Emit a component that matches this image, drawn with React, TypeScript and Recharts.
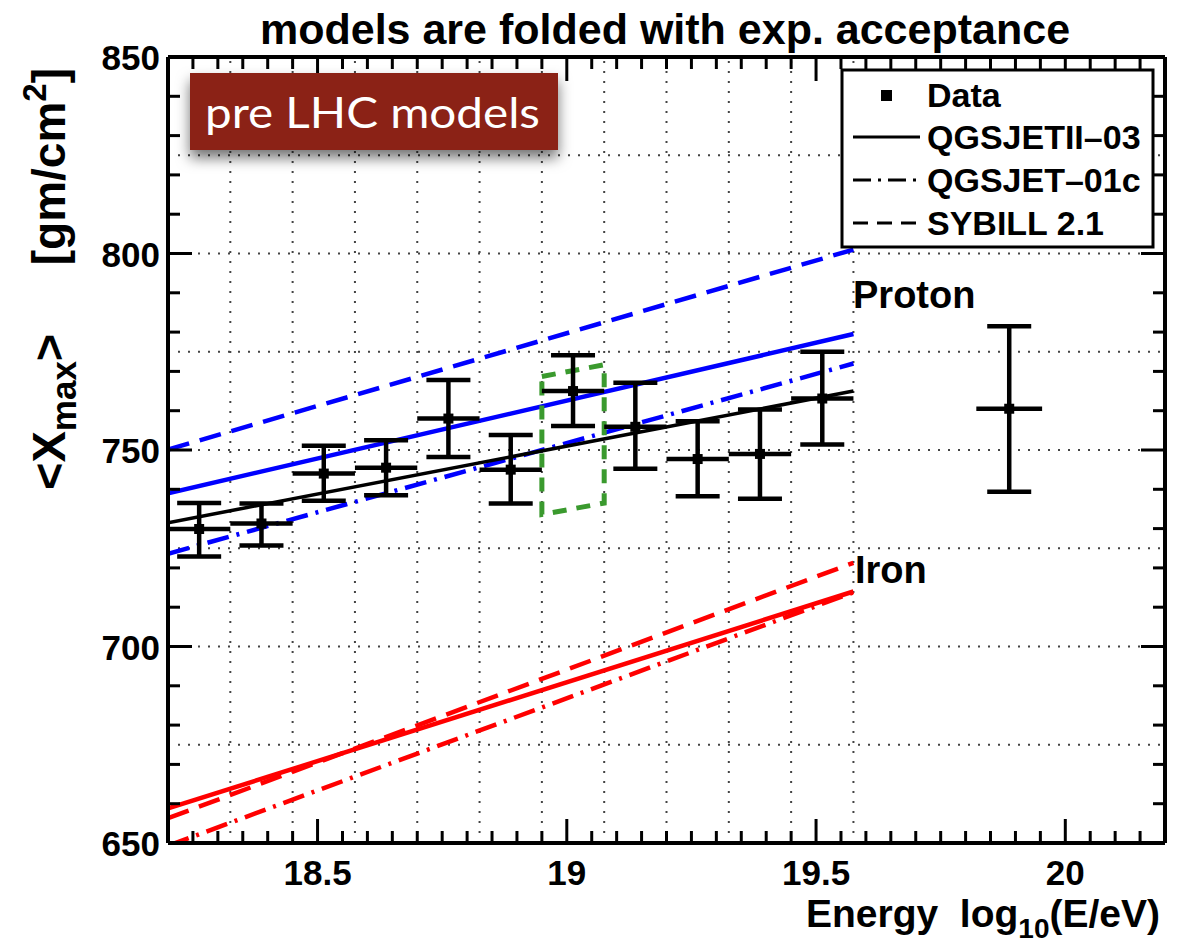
import React from 'react';
import { ComposedChart, Line, Scatter, ErrorBar, XAxis, YAxis, ReferenceLine } from 'recharts';

const FONT = "'Liberation Sans', Arial, Helvetica, sans-serif";

// measured <Xmax> per energy bin
const energyBins = [18.2625, 18.3875, 18.5125, 18.6375, 18.7625, 18.8875, 19.0125, 19.1375, 19.2625, 19.3875, 19.5125, 19.8875];
const binHalfWidth = [0.0625, 0.0625, 0.0625, 0.0625, 0.0625, 0.0625, 0.0625, 0.0625, 0.0625, 0.0625, 0.0625, 0.066];
const xmaxMean = [729.9, 731.3, 744.0, 745.5, 758.0, 745.0, 765.0, 755.9, 747.7, 749.0, 763.1, 760.5];
const xmaxUpper = [736.5, 736.4, 751.1, 752.5, 767.8, 753.8, 774.1, 767.1, 757.3, 760.3, 775.0, 781.5];
const xmaxLower = [722.9, 725.7, 737.1, 738.5, 748.2, 736.4, 756.1, 745.2, 738.2, 737.6, 751.4, 739.4];

// model lines, given at both ends of the range
const modelEnergy = [18.2, 19.575];
const protonQgsjetII = [739.0, 779.5];
const protonQgsjet01 = [723.6, 772.0];
const protonSibyll = [750.1, 801.0];
const ironQgsjetII = [658.8, 714.0];
const ironQgsjet01 = [649.3, 713.8];
const ironSibyll = [656.3, 721.3];
const dataFit = [731.5, 765.0];

// green dashed box round the 10^19 bin
const boxEnergy = [18.95, 19.075, 19.075, 18.95, 18.95];
const boxXmax = [768.7, 771.7, 736.5, 733.6, 768.7];

const xTickLabels = [18.5, 19, 19.5, 20];
const yTickLabels = [650, 700, 750, 800, 850];
const gridEnergy = [18.325, 18.45, 18.575, 18.7, 18.825, 18.95, 19.075, 19.2, 19.325, 19.45, 19.575];
const gridXmax = [675, 700, 725, 750, 775, 800, 825];

const xTicks = Array.from({ length: 41 }, (_, i) => Math.round((18.2 + i * 0.05) * 100) / 100);
const yTicks = Array.from({ length: 21 }, (_, i) => 650 + i * 10);

const isMajor = (list: number[], v: number) => list.some((m) => Math.abs(m - v) < 1e-6);

const toPoints = (xs: number[], ys: number[]) => xs.map((x, i) => ({ x, y: ys[i] }));

const dataPoints = energyBins.map((e, i) => ({
  x: e,
  y: xmaxMean[i],
  ex: binHalfWidth[i],
  ey: [xmaxMean[i] - xmaxLower[i], xmaxUpper[i] - xmaxMean[i]],
}));

const labelStyle = { fontFamily: FONT, fontWeight: 'bold' as const, fill: '#000' };

function BottomTick({ x, y, payload }: any) {
  const major = isMajor(xTickLabels, payload.value);
  return (
    <g>
      <line x1={x} x2={x} y1={y} y2={y - (major ? 24 : 12)} stroke="#000" strokeWidth={3} />
      {major && (
        <text x={x} y={y + 42} textAnchor="middle" fontSize={35} {...labelStyle}>
          {payload.value}
        </text>
      )}
    </g>
  );
}

function TopTick({ x, y, payload }: any) {
  const major = isMajor(xTickLabels, payload.value);
  return <line x1={x} x2={x} y1={y} y2={y + (major ? 24 : 12)} stroke="#000" strokeWidth={3} />;
}

function LeftTick({ x, y, payload }: any) {
  const major = isMajor(yTickLabels, payload.value);
  return (
    <g>
      <line x1={x} x2={x + (major ? 24 : 12)} y1={y} y2={y} stroke="#000" strokeWidth={3} />
      {major && (
        <text x={x - 8} y={y + 13} textAnchor="end" fontSize={35} {...labelStyle}>
          {payload.value}
        </text>
      )}
    </g>
  );
}

function RightTick({ x, y, payload }: any) {
  const major = isMajor(yTickLabels, payload.value);
  return <line x1={x} x2={x - (major ? 24 : 12)} y1={y} y2={y} stroke="#000" strokeWidth={3} />;
}

const squareMarker = (props: any) => (
  <rect x={props.cx - 5} y={props.cy - 5} width={10} height={10} fill="#000" />
);

const frame = { stroke: '#000', strokeWidth: 4 };

function Overlay() {
  return (
    <svg width={1184} height={943} style={{ position: 'absolute', left: 0, top: 0, pointerEvents: 'none' }}>
      <defs>
        <filter id="shadow" x="-20%" y="-30%" width="140%" height="180%">
          <feDropShadow dx="0" dy="8" stdDeviation="7" floodColor="#000" floodOpacity="0.55" />
        </filter>
      </defs>
      <text x={665} y={44} textAnchor="middle" fontSize={43} {...labelStyle}>
        models are folded with exp. acceptance
      </text>

      {/* y axis title */}
      <text transform="translate(65, 490) rotate(-90)" textAnchor="start" fontSize={47} {...labelStyle}>
        {'<X'}
        <tspan fontSize={35} dy={11}>max</tspan>
        <tspan dy={-11}>{'>'}</tspan>
      </text>
      <text transform="translate(65, 68) rotate(-90)" textAnchor="end" fontSize={46} {...labelStyle}>
        [gm/cm
        <tspan fontSize={33} dy={-19}>2</tspan>
        <tspan dy={19}>]</tspan>
      </text>

      {/* x axis title */}
      <text x={1160} y={927} textAnchor="end" fontSize={39} {...labelStyle}>
        {'Energy\u00a0\u00a0log'}
        <tspan fontSize={28} dy={11}>10</tspan>
        <tspan dy={-11}>(E/eV)</tspan>
      </text>

      <text x={853} y={308} fontSize={38} {...labelStyle}>Proton</text>
      <text x={855} y={583} fontSize={38} {...labelStyle}>Iron</text>

      {/* legend */}
      <rect x={842} y={70} width={311} height={177} fill="#fff" stroke="#000" strokeWidth={3} />
      <rect x={881} y={90} width={11} height={11} fill="#000" />
      <text x={927} y={107} fontSize={34} {...labelStyle}>Data</text>
      <line x1={853} x2={920} y1={137} y2={137} stroke="#000" strokeWidth={3} />
      <text x={927} y={149} fontSize={34} {...labelStyle}>QGSJETII–03</text>
      <line x1={853} x2={920} y1={180} y2={180} stroke="#000" strokeWidth={3} strokeDasharray="18 7 3 7" />
      <text x={927} y={192} fontSize={34} {...labelStyle}>QGSJET–01c</text>
      <line x1={853} x2={920} y1={223} y2={223} stroke="#000" strokeWidth={3} strokeDasharray="15 9" />
      <text x={927} y={235} fontSize={34} {...labelStyle}>SYBILL 2.1</text>

      {/* pre LHC badge */}
      <rect x={190} y={73} width={368} height={77} fill="#8b2316" filter="url(#shadow)" />
      <text x={205} y={128} fontSize={42} fontFamily="Lato, 'Open Sans', sans-serif" fill="#fff" textLength={335} lengthAdjust="spacingAndGlyphs">
        pre LHC models
      </text>
    </svg>
  );
}

export default function App() {
  return (
    <div style={{ position: 'absolute', left: 0, top: 0, width: 1184, height: 943, background: '#fff' }}>
      <ComposedChart width={1184} height={943} margin={{ top: 56, right: 18, bottom: 99, left: 167 }}>
        <XAxis dataKey="x" type="number" domain={[18.2, 20.2]} allowDataOverflow ticks={xTicks} interval={0}
          height={1} tickSize={0} tickMargin={0} tickLine={false} axisLine={frame} tick={<BottomTick />} />
        <XAxis xAxisId="top" orientation="top" dataKey="x" type="number" domain={[18.2, 20.2]} allowDataOverflow ticks={xTicks} interval={0}
          height={1} tickSize={0} tickMargin={0} tickLine={false} axisLine={frame} tick={<TopTick />} />
        <YAxis type="number" domain={[650, 850]} allowDataOverflow ticks={yTicks} interval={0}
          width={1} tickSize={0} tickMargin={0} tickLine={false} axisLine={frame} tick={<LeftTick />} />
        <YAxis yAxisId="right" orientation="right" type="number" domain={[650, 850]} allowDataOverflow ticks={yTicks} interval={0}
          width={1} tickSize={0} tickMargin={0} tickLine={false} axisLine={frame} tick={<RightTick />} />

        {gridXmax.map((v) => (
          <ReferenceLine key={'h' + v} y={v} stroke="#444" strokeWidth={2} strokeDasharray="2 8" />
        ))}
        {gridEnergy.map((v) => (
          <ReferenceLine key={'v' + v} x={v} stroke="#444" strokeWidth={2} strokeDasharray="2 8" />
        ))}

        <Line data={toPoints(modelEnergy, protonSibyll)} dataKey="y" stroke="#0000ff" strokeWidth={4.5} strokeDasharray="22 11" dot={false} activeDot={false} isAnimationActive={false} />
        <Line data={toPoints(modelEnergy, protonQgsjetII)} dataKey="y" stroke="#0000ff" strokeWidth={4.5} dot={false} activeDot={false} isAnimationActive={false} />
        <Line data={toPoints(modelEnergy, protonQgsjet01)} dataKey="y" stroke="#0000ff" strokeWidth={4.5} strokeDasharray="22 8 3 8" dot={false} activeDot={false} isAnimationActive={false} />
        <Line data={toPoints(modelEnergy, ironSibyll)} dataKey="y" stroke="#ff0000" strokeWidth={4.5} strokeDasharray="22 11" dot={false} activeDot={false} isAnimationActive={false} />
        <Line data={toPoints(modelEnergy, ironQgsjetII)} dataKey="y" stroke="#ff0000" strokeWidth={4.5} dot={false} activeDot={false} isAnimationActive={false} />
        <Line data={toPoints(modelEnergy, ironQgsjet01)} dataKey="y" stroke="#ff0000" strokeWidth={4.5} strokeDasharray="22 8 3 8" dot={false} activeDot={false} isAnimationActive={false} />
        <Line data={toPoints(modelEnergy, dataFit)} dataKey="y" stroke="#000" strokeWidth={3.5} dot={false} activeDot={false} isAnimationActive={false} />
        <Line data={toPoints(boxEnergy, boxXmax)} dataKey="y" stroke="#3a9a2e" strokeWidth={5} strokeDasharray="14 10" dot={false} activeDot={false} isAnimationActive={false} />

        <Scatter data={dataPoints} dataKey="y" fill="#000" shape={squareMarker} isAnimationActive={false}>
          <ErrorBar dataKey="ey" direction="y" width={22} strokeWidth={4.5} stroke="#000" isAnimationActive={false} />
          <ErrorBar dataKey="ex" direction="x" width={0} strokeWidth={4.5} stroke="#000" isAnimationActive={false} />
        </Scatter>
      </ComposedChart>
      <Overlay />
    </div>
  );
}
